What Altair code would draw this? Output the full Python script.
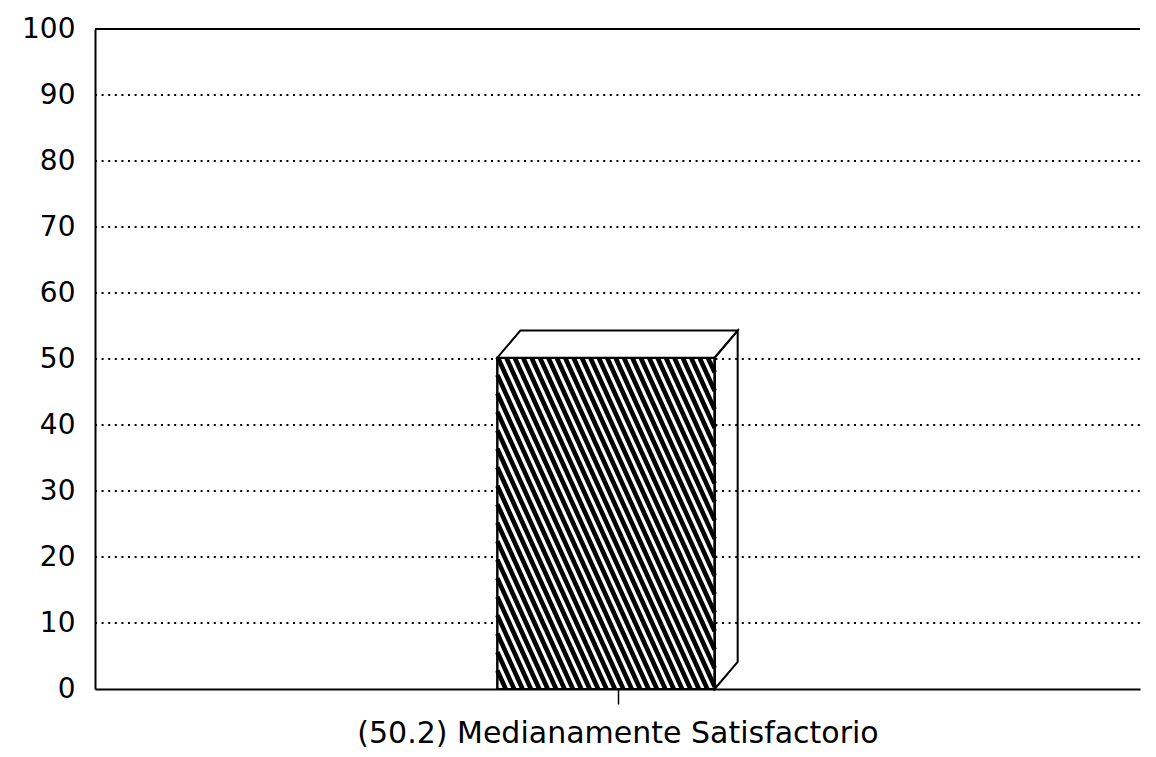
import altair as alt
import pandas as pd

# ---- data ----
categories = ["(50.2) Medianamente Satisfactorio"]
values = [50.2]
y_ticks = [0, 10, 20, 30, 40, 50, 60, 70, 80, 90, 100]
grid_levels = [10, 20, 30, 40, 50, 60, 70, 80, 90]

# ---- layout / style constants ----
W, H = 1045, 660
FONT = "DejaVu Sans"
POS = 0.5            # category position on the x scale
HALF = 0.104         # half width of the front face (x units)
DX = 0.022           # 3D depth (x units)
DY = 4.1             # 3D depth (y units)
PX_X = W / 1.0       # px per x unit
PX_Y = H / 100.0     # px per y unit
HATCH_PERIOD_PX = 8.4
HATCH_SLOPE = 2.2    # px down per px right

v = values[0]
x0 = POS - HALF - DX / 2
x1 = POS + HALF - DX / 2

front = pd.DataFrame({"x": [x0], "x2": [x1], "y": [0.0], "y2": [v]})
top = pd.DataFrame({"y": [v, v + DY], "x": [x0, x0 + DX], "x2": [x1, x1 + DX]})
side = pd.DataFrame({"x": [x1, x1 + DX], "y": [0.0, DY], "y2": [v, v + DY]})

# hatch lines clipped to the front face
k = PX_Y / (HATCH_SLOPE * PX_X)      # x-units per y-unit going down
period = HATCH_PERIOD_PX / PX_X
rows = []
c = x0 - v * k
while c < x1:
    y_hi = min(v, v - (x0 - c) / k)
    y_lo = max(0.0, v - (x1 - c) / k)
    if y_hi > y_lo:
        rows.append({"x": c + (v - y_hi) * k, "y": y_hi,
                     "x2": c + (v - y_lo) * k, "y2": y_lo})
    c += period
hatch = pd.DataFrame(rows)

xs = alt.Scale(domain=[0, 1], nice=False, zero=False)
ys = alt.Scale(domain=[0, 100], nice=False)

grid = alt.Chart(pd.DataFrame({"g": grid_levels})).mark_rule(
    color="black", strokeWidth=2, strokeDash=[2, 4.6]
).encode(
    y=alt.Y("g:Q", scale=ys,
            axis=alt.Axis(values=y_ticks, title=None, grid=False, ticks=False,
                          domain=True, domainColor="black", domainWidth=2,
                          labelFont=FONT, labelFontSize=28, labelColor="black",
                          labelPadding=20)),
    x=alt.value(0), x2=alt.value(W),
)

top_border = alt.Chart(pd.DataFrame({"g": [100]})).mark_rule(
    color="black", strokeWidth=2
).encode(y=alt.Y("g:Q", scale=ys), x=alt.value(0), x2=alt.value(W))

label_expr = "'" + categories[0] + "'"

front_face = alt.Chart(front).mark_rect(
    fill="white", stroke="black", strokeWidth=2
).encode(
    x=alt.X("x:Q", scale=xs,
            axis=alt.Axis(values=[POS], labelExpr=label_expr, title=None, grid=False,
                          domain=True, domainColor="black", domainWidth=2,
                          ticks=True, tickColor="black", tickSize=15, tickWidth=1.5,
                          labelFont=FONT, labelFontSize=30, labelColor="black",
                          labelPadding=14, labelFlush=False, labelLimit=0,
                          labelOverlap=False)),
    x2="x2:Q",
    y=alt.Y("y:Q", scale=ys),
    y2="y2:Q",
)

hatch_layer = alt.Chart(hatch).mark_rule(
    color="black", strokeWidth=4.6, strokeCap="butt"
).encode(x=alt.X("x:Q", scale=xs), x2="x2:Q", y=alt.Y("y:Q", scale=ys), y2="y2:Q")

front_outline = alt.Chart(front).mark_rect(
    fillOpacity=0, stroke="black", strokeWidth=2
).encode(x=alt.X("x:Q", scale=xs), x2="x2:Q", y=alt.Y("y:Q", scale=ys), y2="y2:Q")

top_face = alt.Chart(top).mark_area(
    orient="horizontal", fill="white", stroke="black", strokeWidth=2
).encode(y=alt.Y("y:Q", scale=ys), x=alt.X("x:Q", scale=xs), x2="x2:Q")

side_face = alt.Chart(side).mark_area(
    orient="vertical", fillOpacity=0, stroke="black", strokeWidth=2
).encode(x=alt.X("x:Q", scale=xs), y=alt.Y("y:Q", scale=ys), y2="y2:Q")

chart = alt.layer(
    grid, top_border, front_face, hatch_layer, front_outline, top_face, side_face
).properties(
    width=W, height=H,
    autosize=alt.AutoSizeParams(type="none"),
    padding={"left": 87, "top": 21, "right": 5, "bottom": 60},
    background="white",
).configure_view(stroke=None)

chart.save("out.html", embed_options={"renderer": "svg", "actions": False})
